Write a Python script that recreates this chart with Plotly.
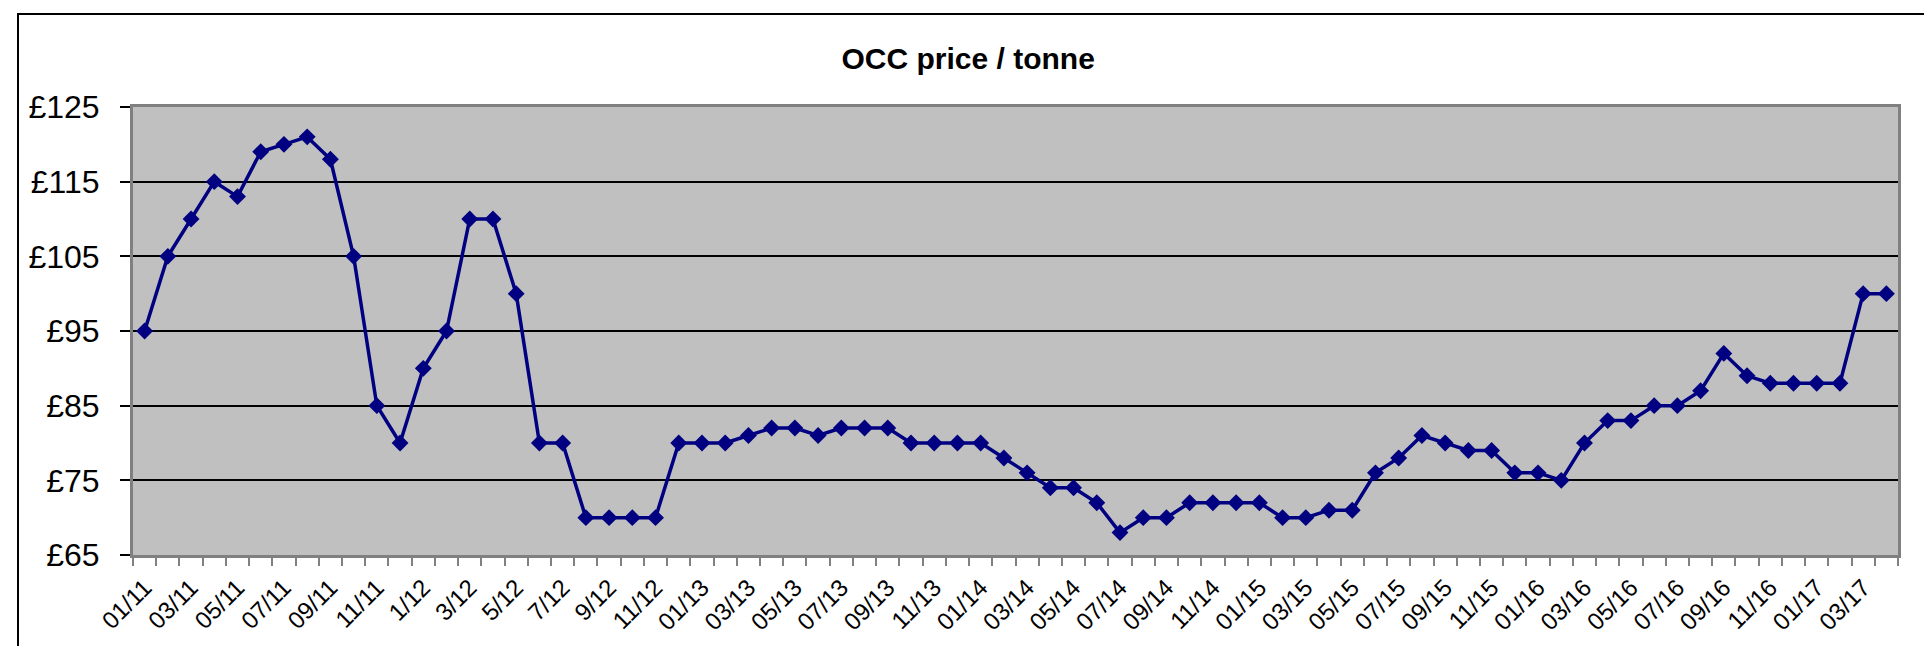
import plotly.graph_objects as go

# ---- data ----
months = [
    "01/11", "02/11", "03/11", "04/11", "05/11", "06/11", "07/11", "08/11", "09/11", "10/11", "11/11", "12/11",
    "1/12", "2/12", "3/12", "4/12", "5/12", "6/12", "7/12", "8/12", "9/12", "10/12", "11/12", "12/12",
    "01/13", "02/13", "03/13", "04/13", "05/13", "06/13", "07/13", "08/13", "09/13", "10/13", "11/13", "12/13",
    "01/14", "02/14", "03/14", "04/14", "05/14", "06/14", "07/14", "08/14", "09/14", "10/14", "11/14", "12/14",
    "01/15", "02/15", "03/15", "04/15", "05/15", "06/15", "07/15", "08/15", "09/15", "10/15", "11/15", "12/15",
    "01/16", "02/16", "03/16", "04/16", "05/16", "06/16", "07/16", "08/16", "09/16", "10/16", "11/16", "12/16",
    "01/17", "02/17", "03/17", "04/17",
]

price = [
    95, 105, 110, 115, 113, 119, 120, 121, 118, 105, 85, 80,
    90, 95, 110, 110, 100, 80, 80, 70, 70, 70, 70, 80,
    80, 80, 81, 82, 82, 81, 82, 82, 82, 80, 80, 80,
    80, 78, 76, 74, 74, 72, 68, 70, 70, 72, 72, 72,
    72, 70, 70, 71, 71, 76, 78, 81, 80, 79, 79, 76,
    76, 75, 80, 83, 83, 85, 85, 87, 92, 89, 88, 88,
    88, 88, 100, 100,
]

y_ticks = [65, 75, 85, 95, 105, 115, 125]
y_labels = ["£" + str(v) for v in y_ticks]

title_text = "OCC price / tonne"

FONT = "Liberation Sans, Arial, sans-serif"

fig = go.Figure()
fig.add_trace(go.Scatter(
    x=months, y=price, mode="lines+markers",
    line=dict(color="#000080", width=3.5),
    marker=dict(symbol="diamond", size=13, color="#000080"),
    showlegend=False,
))

fig.update_layout(
    width=1932, height=646,
    margin=dict(l=125, r=42, t=99, b=99),
    paper_bgcolor="white",
    plot_bgcolor="#C0C0C0",
    title=dict(
        text="<b>" + title_text + "</b>",
        x=0.497, xanchor="center",
        y=1 - 50 / 646, yanchor="middle",
        font=dict(family=FONT, size=30, color="black"),
    ),
    font=dict(family=FONT, color="black"),
    shapes=[
        dict(type="rect", xref="paper", yref="paper",
             x0=-115 / 1765, x1=(1927 - 125) / 1765,
             y0=-120 / 448, y1=1 + 93 / 448,
             line=dict(color="black", width=2), fillcolor="rgba(0,0,0,0)",
             layer="below"),
    ],
)

fig.update_xaxes(
    type="category",
    categoryorder="array", categoryarray=months,
    range=[-0.5, len(months) - 0.5],
    tickson="boundaries",
    tickmode="linear", tick0=0, dtick=1,
    ticklabelstep=2,
    ticks="outside", ticklen=8, tickwidth=2, tickcolor="#808080",
    tickangle=-45,
    ticklabelstandoff=6,
    tickfont=dict(family=FONT, size=24, color="black"),
    showgrid=False,
    showline=True, linecolor="#808080", linewidth=3, mirror=True,
    zeroline=False,
)

fig.update_yaxes(
    range=[65, 125],
    tickmode="array", tickvals=y_ticks, ticktext=y_labels,
    ticks="outside", ticklen=10, tickwidth=2, tickcolor="black",
    ticklabelstandoff=14,
    tickfont=dict(family=FONT, size=32, color="black"),
    showgrid=True, gridcolor="black", gridwidth=2,
    showline=True, linecolor="#808080", linewidth=3, mirror=True,
    zeroline=False,
)

fig.write_html("out.html")
